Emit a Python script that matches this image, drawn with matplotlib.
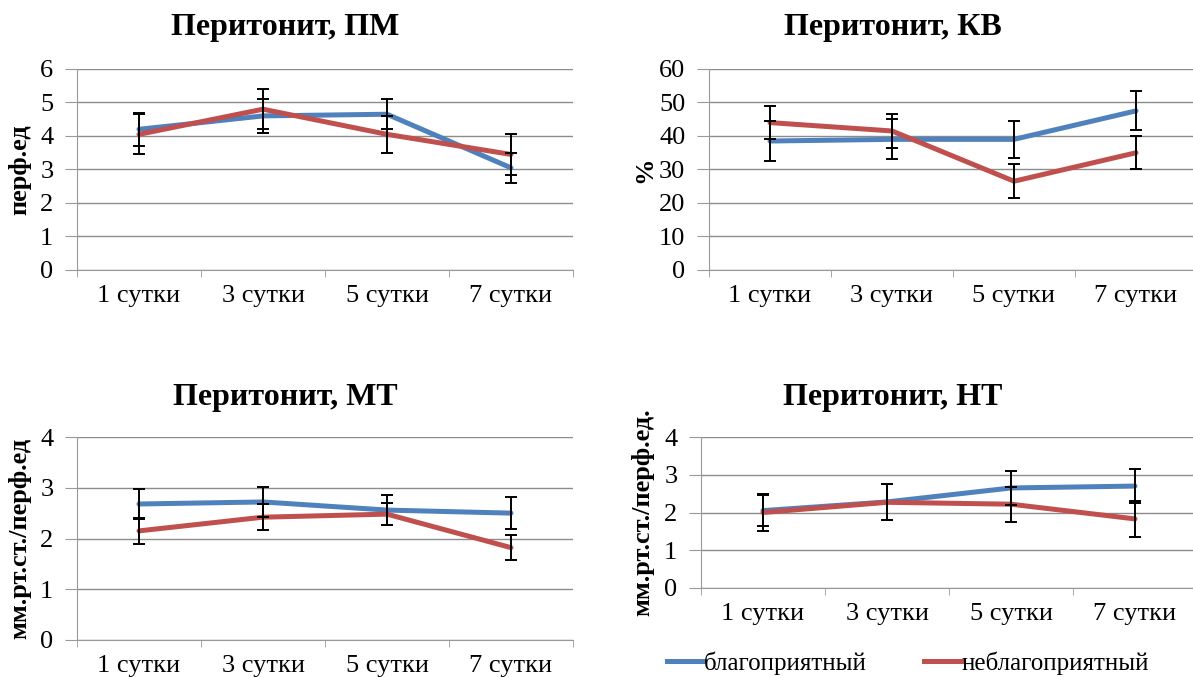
import numpy as np
import matplotlib
matplotlib.use("Agg")
import matplotlib.pyplot as plt
from matplotlib.lines import Line2D

plt.rcParams['font.family'] = ['Liberation Serif', 'DejaVu Serif']

days = ['1 сутки', '3 сутки', '5 сутки', '7 сутки']
series_names = ['благоприятный', 'неблагоприятный']

# Перитонит, ПМ
pm_good = [4.2, 4.6, 4.65, 3.05]
pm_good_err = [0.5, 0.5, 0.45, 0.45]
pm_bad = [4.05, 4.8, 4.05, 3.45]
pm_bad_err = [0.6, 0.6, 0.55, 0.6]

# Перитонит, КВ
kv_good = [38.5, 39.0, 39.0, 47.5]
kv_good_err = [6.0, 6.0, 5.5, 5.8]
kv_bad = [44.0, 41.5, 26.5, 35.0]
kv_bad_err = [5.0, 5.0, 5.0, 5.0]

# Перитонит, МТ
mt_good = [2.68, 2.72, 2.56, 2.5]
mt_good_err = [0.3, 0.3, 0.3, 0.31]
mt_bad = [2.15, 2.42, 2.48, 1.82]
mt_bad_err = [0.25, 0.25, 0.22, 0.24]

# Перитонит, НТ
nt_good = [2.05, 2.28, 2.65, 2.7]
nt_good_err = [0.42, 0.48, 0.45, 0.45]
nt_bad = [2.0, 2.27, 2.22, 1.83]
nt_bad_err = [0.48, 0.48, 0.46, 0.48]

BLUE = '#4F81BD'
RED = '#C0504D'
W, H = 1193, 677

fig = plt.figure(figsize=(W / 100, H / 100), dpi=100)


def px_axes(left, right, top, bottom):
    return fig.add_axes([left / W, 1 - bottom / H, (right - left) / W, (bottom - top) / H])


def panel(ax, good, good_err, bad, bad_err, ymax, ystep, ylabel, title, title_xy, ylabel_x):
    x = np.arange(len(days))
    ax.plot(x, good, color=BLUE, lw=3.6, solid_capstyle='round', zorder=3)
    ax.plot(x, bad, color=RED, lw=3.6, solid_capstyle='round', zorder=3)
    for vals, err in [(good, good_err), (bad, bad_err)]:
        ax.errorbar(x, vals, yerr=err, fmt='none', ecolor='black', elinewidth=1.4,
                    capsize=4, capthick=1.4, zorder=4)
    ax.set_xlim(-0.5, 3.5)
    ax.set_ylim(0, ymax)
    ax.set_yticks(np.arange(0, ymax + ystep / 2, ystep))
    ax.set_xticks(x)
    ax.set_xticklabels(days, fontsize=19)
    ax.set_xticks(np.arange(-0.5, 4, 1), minor=True)
    ax.tick_params(axis='x', which='major', length=0, pad=11)
    ax.tick_params(axis='x', which='minor', length=5, color='#999999')
    ax.tick_params(axis='y', length=9, color='#999999', labelsize=19, pad=8)
    ax.grid(axis='y', color='#8c8c8c', lw=1.0)
    ax.set_axisbelow(True)
    for s in ['top', 'right']:
        ax.spines[s].set_visible(False)
    for s in ['left', 'bottom']:
        ax.spines[s].set_color('#999999')
    pos = ax.get_position()
    fig.text(ylabel_x / W, (pos.y0 + pos.y1) / 2, ylabel, rotation=90, fontsize=19,
             fontweight='bold', ha='center', va='center')
    fig.text(title_xy[0] / W, 1 - title_xy[1] / H, title, fontsize=23, fontweight='bold',
             ha='center', va='center')


ax1 = px_axes(77, 573, 69, 270)
panel(ax1, pm_good, pm_good_err, pm_bad, pm_bad_err, 6, 1, 'перф.ед',
      'Перитонит, ПМ', (285, 28), 20)

ax2 = px_axes(709, 1197, 69, 270)
panel(ax2, kv_good, kv_good_err, kv_bad, kv_bad_err, 60, 10, '%',
      'Перитонит, КВ', (893, 28), 645)

ax3 = px_axes(77, 573, 437, 640)
panel(ax3, mt_good, mt_good_err, mt_bad, mt_bad_err, 4, 1, 'мм.рт.ст./перф.ед',
      'Перитонит, МТ', (285, 397), 20)

ax4 = px_axes(701, 1197, 437, 588)
panel(ax4, nt_good, nt_good_err, nt_bad, nt_bad_err, 4, 1, 'мм.рт.ст./перф.ед.',
      'Перитонит, НТ', (893, 397), 643)

handles = [Line2D([], [], color=BLUE, lw=3.6), Line2D([], [], color=RED, lw=3.6)]
fig.legend(handles, series_names, loc='center', bbox_to_anchor=(908 / W, 1 - 663 / H),
           ncol=2, frameon=False, fontsize=18, handlelength=1.5, handletextpad=0.0,
           columnspacing=2.3, borderpad=0)

fig.savefig('out.png', dpi=100)
